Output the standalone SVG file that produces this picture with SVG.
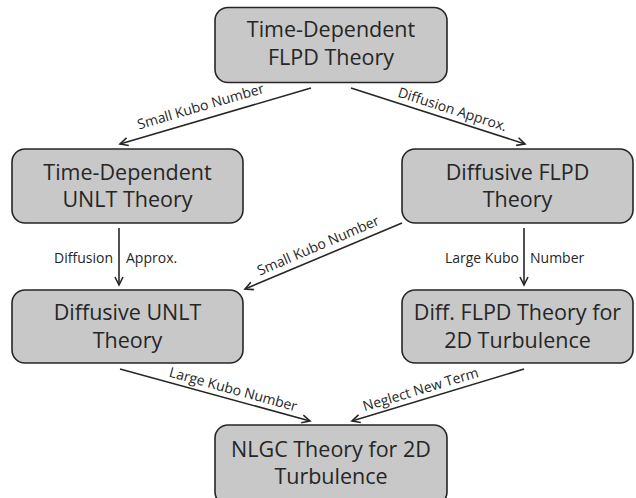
<svg xmlns="http://www.w3.org/2000/svg" width="636" height="498" viewBox="0 0 636 498">
<style>
.box{fill:#c8c8c8;stroke:#262626;stroke-width:1.6}
.t{font-family:"Open Sans","Liberation Sans",sans-serif;font-size:21.5px;fill:#262626;text-anchor:middle}
.l{font-family:"Open Sans","Liberation Sans",sans-serif;font-size:14px;fill:#262626}
.c{stroke:#262626;stroke-width:1.6;fill:none;marker-end:url(#ah)}
</style>
<defs>
<marker id="ah" markerUnits="userSpaceOnUse" markerWidth="12" markerHeight="12" refX="9" refY="5" orient="auto">
<path d="M1,1 L9,5 L1,9" fill="none" stroke="#262626" stroke-width="1.6"/>
</marker>
</defs>
<rect width="636" height="498" fill="#ffffff"/>
<g id="connectors">
<line class="c" x1="311" y1="88" x2="120" y2="144"/>
<line class="c" x1="351" y1="88" x2="525" y2="144"/>
<line class="c" x1="119" y1="228" x2="119" y2="285"/>
<line class="c" x1="524" y1="228" x2="524" y2="285"/>
<line class="c" x1="402" y1="223" x2="245" y2="289"/>
<line class="c" x1="120" y1="369" x2="310" y2="421"/>
<line class="c" x1="524" y1="369" x2="352" y2="421"/>
<text class="l" text-anchor="middle" transform="translate(202,111) rotate(-16.3)">Small Kubo Number</text>
<text class="l" text-anchor="middle" transform="translate(451,114) rotate(17.8)">Diffusion Approx.</text>
<text class="l" text-anchor="end" x="113" y="263">Diffusion</text>
<text class="l" x="126" y="263">Approx.</text>
<text class="l" text-anchor="end" x="519" y="263">Large Kubo</text>
<text class="l" x="530" y="263">Number</text>
<text class="l" text-anchor="middle" transform="translate(320,250) rotate(-23.1)">Small Kubo Number</text>
<text class="l" text-anchor="middle" transform="translate(232,394) rotate(15.3)">Large Kubo Number</text>
<text class="l" text-anchor="middle" transform="translate(422,394) rotate(-16.8)">Neglect New Term</text>
</g>
<g id="n1">
<rect class="box" x="215" y="7.5" width="232" height="75" rx="13"/>
<text class="t" x="331" y="37">Time-Dependent</text>
<text class="t" x="331" y="65">FLPD Theory</text>
</g>
<g id="n2">
<rect class="box" x="12" y="149" width="231" height="74" rx="13"/>
<text class="t" x="127.5" y="180">Time-Dependent</text>
<text class="t" x="127.5" y="207">UNLT Theory</text>
</g>
<g id="n3">
<rect class="box" x="402" y="149" width="231" height="74" rx="13"/>
<text class="t" x="517.5" y="180">Diffusive FLPD</text>
<text class="t" x="517.5" y="207">Theory</text>
</g>
<g id="n4">
<rect class="box" x="12" y="290" width="231" height="73" rx="13"/>
<text class="t" x="127.5" y="320">Diffusive UNLT</text>
<text class="t" x="127.5" y="348">Theory</text>
</g>
<g id="n5">
<rect class="box" x="402" y="290" width="231" height="73" rx="13"/>
<text class="t" x="517.5" y="320">Diff. FLPD Theory for</text>
<text class="t" x="517.5" y="348">2D Turbulence</text>
</g>
<g id="n6">
<rect class="box" x="215" y="425" width="232" height="80" rx="13"/>
<text class="t" x="331" y="457">NLGC Theory for 2D</text>
<text class="t" x="331" y="484">Turbulence</text>
</g>
</svg>
